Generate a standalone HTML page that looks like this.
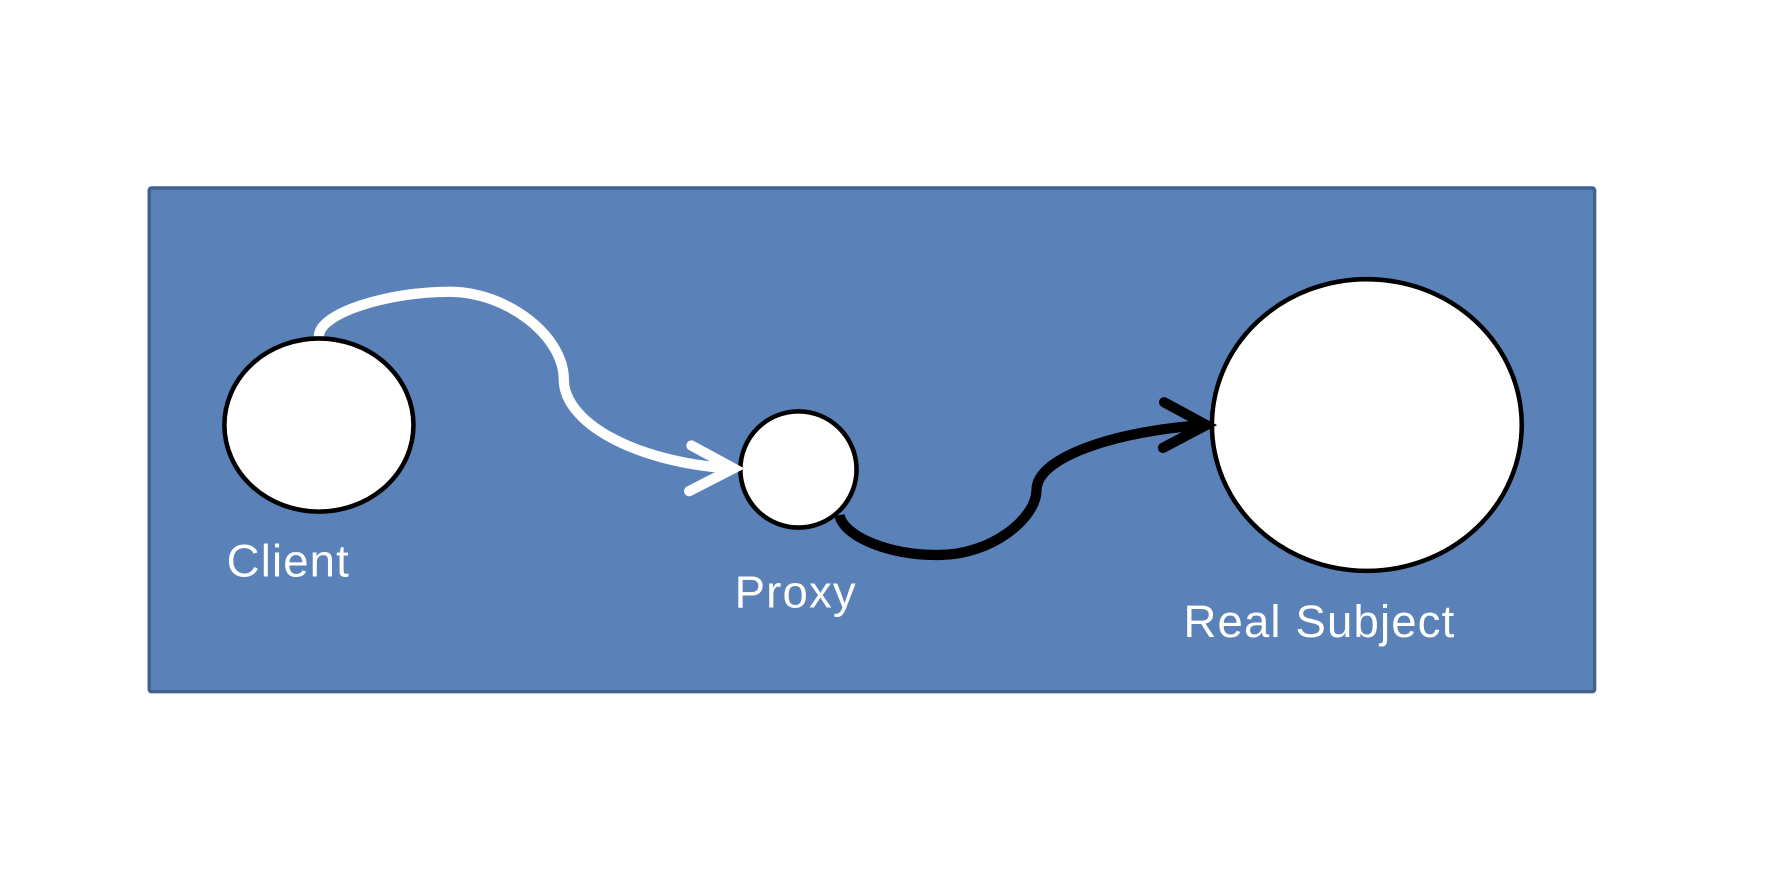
<!DOCTYPE html>
<html><head><meta charset="utf-8"><style>
html,body{margin:0;padding:0;background:#fff;width:1786px;height:874px;overflow:hidden}
svg{display:block}
text{font-family:"Liberation Sans",sans-serif;fill:#fff}
</style></head><body>
<svg width="1786" height="874" viewBox="0 0 1568 767" preserveAspectRatio="none">
<rect x="131" y="165" width="1269" height="442" fill="#5b82b8" stroke="#41618f" stroke-width="3" rx="2"/>
<ellipse cx="280" cy="373" rx="83" ry="76" fill="#fff" stroke="#000" stroke-width="4"/>
<ellipse cx="701" cy="412" rx="51" ry="51" fill="#fff" stroke="#000" stroke-width="4"/>
<ellipse cx="1200" cy="373" rx="136" ry="128" fill="#fff" stroke="#000" stroke-width="4"/>
<path d="M280,295 C280,275 340,256 395,256 C445,256 495,295 495,333 C495,370 555,405 640,411" fill="none" stroke="#fff" stroke-width="9"/>
<polyline points="607,391 644,411 605,431" fill="none" stroke="#fff" stroke-width="9" stroke-linecap="round" stroke-linejoin="miter"/>
<path d="M737,452 C740,470 780,488 825,487 C870,487 910,455 910,430 C910,400 985,377 1060,373" fill="none" stroke="#000" stroke-width="9"/>
<polyline points="1022,353 1059,373 1021,393" fill="none" stroke="#000" stroke-width="9" stroke-linecap="round"/>
<text x="199" y="506" font-size="40" letter-spacing="1" text-anchor="start">Client</text>
<text x="645" y="533" font-size="40" letter-spacing="1" text-anchor="start">Proxy</text>
<text x="1039" y="559" font-size="40" letter-spacing="1" text-anchor="start">Real Subject</text>
</svg>
</body></html>
